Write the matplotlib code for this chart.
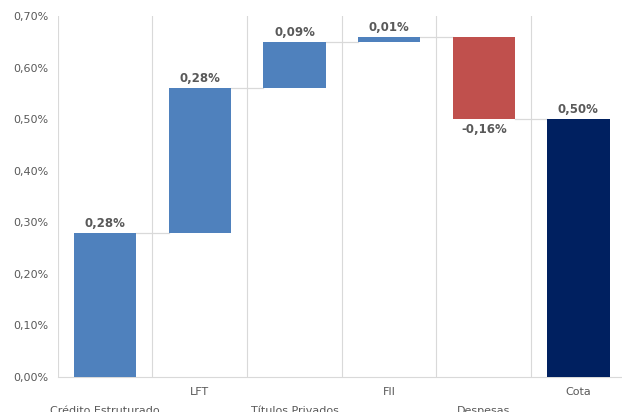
import matplotlib.pyplot as plt
from matplotlib.ticker import FuncFormatter

categories = ['Crédito Estruturado', 'LFT', 'Títulos Privados', 'FII', 'Despesas', 'Cota']
deltas = [0.28, 0.28, 0.09, 0.01, -0.16]
value_labels = ['0,28%', '0,28%', '0,09%', '0,01%', '-0,16%', '0,50%']

blue = '#4F81BD'
red = '#C0504D'
navy = '#002060'
text_gray = '#595959'
line_gray = '#D9D9D9'

plt.rcParams['font.family'] = ['DejaVu Sans']

fig = plt.figure(figsize=(6.22, 4.12), dpi=100)
ax = fig.add_axes([0.093, 0.085, 0.913, 0.876])

# waterfall positions
bottoms, heights, colors, ends = [], [], [], []
level = 0.0
for d in deltas:
    start = level
    level = level + d
    bottoms.append(min(start, level))
    heights.append(abs(d))
    colors.append(blue if d >= 0 else red)
    ends.append(level)
total = sum(deltas)
bottoms.append(0)
heights.append(total)
colors.append(navy)
ends.append(total)

width = 0.66
xs = list(range(len(categories)))
ax.bar(xs, heights, bottom=bottoms, width=width, color=colors, zorder=3)

# connectors
for i in range(len(categories) - 1):
    ax.plot([i + width / 2, i + 1 - width / 2], [ends[i], ends[i]],
            color=line_gray, lw=0.9, zorder=2)

# value labels
for i, lab in enumerate(value_labels):
    if i < len(deltas) and deltas[i] < 0:
        ax.text(i, bottoms[i] - 0.008, lab, ha='center', va='top',
                fontsize=8.5, fontweight='bold', color=text_gray)
    else:
        ax.text(i, bottoms[i] + heights[i] + 0.006, lab, ha='center', va='bottom',
                fontsize=8.5, fontweight='bold', color=text_gray)

ax.set_xlim(-0.5, len(categories) - 0.5)
ax.set_ylim(0, 0.70)
ax.set_yticks([0, 0.1, 0.2, 0.3, 0.4, 0.5, 0.6, 0.7])
ax.yaxis.set_major_formatter(FuncFormatter(lambda v, p: f'{v:.2f}%'.replace('.', ',')))

ax.set_xticks(xs)
ax.set_xticklabels([('\n' + c) if i % 2 == 0 else c for i, c in enumerate(categories)],
                   linespacing=2.1)
ax.set_xticks([i - 0.5 for i in range(len(categories) + 1)], minor=True)
ax.grid(True, which='minor', axis='x', color=line_gray, lw=0.8, zorder=0)
ax.tick_params(axis='both', which='both', length=0, colors=text_gray, labelsize=8)
ax.tick_params(axis='y', pad=7)
ax.tick_params(axis='x', pad=7)

for s in ['top', 'right', 'left']:
    ax.spines[s].set_visible(False)
ax.spines['bottom'].set_color(line_gray)

fig.savefig('out.png', dpi=100)
